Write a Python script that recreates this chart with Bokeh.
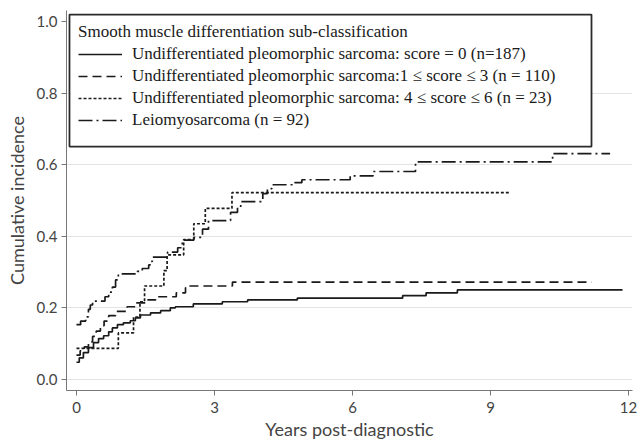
from bokeh.plotting import figure
from bokeh.models import Range1d, FixedTicker, PrintfTickFormatter, Legend, LegendItem, BoxAnnotation
from bokeh.embed import file_html
from bokeh.resources import INLINE

# ---- data (years post-diagnostic, cumulative incidence) ----
t_score0 = [0, 0.06, 0.15, 0.26, 0.37, 0.48, 0.59, 0.70, 0.78, 0.89, 1.02, 1.17, 1.28, 1.39,
            1.61, 1.83, 2.04, 2.15, 2.54, 3.17, 3.72, 4.80, 7.09, 7.60, 8.28, 11.87]
ci_score0 = [0.048, 0.060, 0.075, 0.089, 0.103, 0.114, 0.122, 0.133, 0.144, 0.153, 0.158, 0.164,
             0.172, 0.180, 0.186, 0.192, 0.200, 0.203, 0.211, 0.217, 0.222, 0.227, 0.234, 0.242,
             0.250, 0.250]

t_score13 = [0, 0.08, 0.17, 0.26, 0.35, 0.43, 0.52, 0.60, 0.70, 0.85, 1.10, 1.28, 1.50, 1.72,
             2.17, 2.37, 2.43, 3.39, 11.20]
ci_score13 = [0.068, 0.080, 0.091, 0.105, 0.120, 0.135, 0.150, 0.163, 0.178, 0.190, 0.203, 0.214,
              0.222, 0.231, 0.242, 0.256, 0.261, 0.272, 0.272]

t_score46 = [0, 0.91, 1.24, 1.38, 1.48, 1.90, 1.97, 2.33, 2.55, 2.80, 3.38, 9.43]
ci_score46 = [0.087, 0.130, 0.174, 0.217, 0.261, 0.304, 0.348, 0.391, 0.435, 0.478, 0.522, 0.522]

t_lms = [0, 0.09, 0.20, 0.26, 0.30, 0.35, 0.62, 0.70, 0.78, 0.85, 0.91, 1.32, 1.43, 1.57, 1.62,
         1.65, 1.98, 2.20, 2.30, 2.55, 2.74, 2.87, 3.35, 3.50, 3.57, 4.05, 4.15, 4.25, 4.75, 4.90,
         5.95, 6.45, 7.37, 10.35, 11.60]
ci_lms = [0.153, 0.163, 0.175, 0.196, 0.208, 0.219, 0.231, 0.244, 0.258, 0.278, 0.295, 0.302,
          0.310, 0.320, 0.330, 0.342, 0.356, 0.368, 0.389, 0.397, 0.420, 0.444, 0.467, 0.481,
          0.497, 0.519, 0.533, 0.544, 0.550, 0.558, 0.569, 0.581, 0.608, 0.631, 0.631]

labels = [
    "Undifferentiated pleomorphic sarcoma: score = 0 (n=187)",
    "Undifferentiated pleomorphic sarcoma:1 \u2264 score \u2264 3 (n = 110)",
    "Undifferentiated pleomorphic sarcoma: 4 \u2264 score \u2264 6 (n = 23)",
    "Leiomyosarcoma (n = 92)",
]
legend_title = "Smooth muscle differentiation sub-classification"
x_ticks = [0, 3, 6, 9, 12]
y_ticks = [0.0, 0.2, 0.4, 0.6, 0.8, 1.0]
grid_ticks = [0.0, 0.2, 0.4, 0.6, 0.8]

# ---- figure ----
SANS = "Lato"
SERIF = "Liberation Serif"
INK = "#1a1a1a"

p = figure(width=640, height=443, output_backend="svg", toolbar_location=None,
           x_range=Range1d(-0.217, 12.087), y_range=Range1d(-0.031, 1.031),
           min_border_left=66, min_border_right=8, min_border_top=10, min_border_bottom=53)
p.outline_line_color = None
p.background_fill_color = "white"

p.xgrid.visible = False
p.ygrid.ticker = FixedTicker(ticks=grid_ticks)
p.ygrid.grid_line_color = "#e4e4e4"
p.ygrid.grid_line_width = 1

for ax in (p.xaxis[0], p.yaxis[0]):
    ax.axis_line_color = "#777777"
    ax.axis_line_width = 1
    ax.major_tick_line_color = "#777777"
    ax.major_tick_out = 5
    ax.major_tick_in = 0
    ax.minor_tick_line_color = None
    ax.major_label_text_font = SANS
    ax.major_label_text_font_size = "15px"
    ax.major_label_text_color = "#444444"
    ax.axis_label_text_font = SANS
    ax.axis_label_text_font_size = "18px"
    ax.axis_label_text_color = "#444444"
    ax.axis_label_text_font_style = "normal"

p.xaxis.ticker = FixedTicker(ticks=x_ticks)
p.yaxis.ticker = FixedTicker(ticks=y_ticks)
p.yaxis.formatter = PrintfTickFormatter(format="%.1f")
p.xaxis.axis_label = "Years post-diagnostic"
p.yaxis.axis_label = "Cumulative incidence"
p.xaxis.major_label_standoff = 6
p.xaxis.axis_label_standoff = 2
p.yaxis.major_label_standoff = 4
p.yaxis.axis_label_standoff = 6

# legend frame (drawn below the curves, above the grid)
def px_x(px):
    return (px - 76) / 46.0

def px_y(py):
    return (379 - py) / 358.0

box = BoxAnnotation(left=px_x(69), right=px_x(591), top=px_y(14), bottom=px_y(146),
                    fill_color="white", fill_alpha=1.0, line_color="#2b2b2b", line_alpha=1.0,
                    line_width=1.8, level="underlay")
p.add_layout(box)

r0 = p.step(t_score0, ci_score0, mode="after", line_color=INK, line_width=1.7)
r1 = p.step(t_score13, ci_score13, mode="after", line_color=INK, line_width=1.7, line_dash="9 5")
r2 = p.step(t_score46, ci_score46, mode="after", line_color=INK, line_width=1.7, line_dash="3 2")
r3 = p.step(t_lms, ci_lms, mode="after", line_color=INK, line_width=1.7, line_dash="14 4 2 4")

legend = Legend(items=[LegendItem(label=labels[0], renderers=[r0]),
                       LegendItem(label=labels[1], renderers=[r1]),
                       LegendItem(label=labels[2], renderers=[r2]),
                       LegendItem(label=labels[3], renderers=[r3])],
                location="top_left", title=legend_title)
legend.margin = 2
legend.padding = 10
legend.border_line_alpha = 0
legend.background_fill_alpha = 0
legend.title_text_font = SERIF
legend.title_text_font_size = "17px"
legend.title_text_font_style = "normal"
legend.title_text_color = INK
legend.title_standoff = 2
legend.label_text_font = SERIF
legend.label_text_font_size = "17px"
legend.label_text_color = INK
legend.glyph_width = 44
legend.glyph_height = 20
legend.label_height = 20
legend.label_standoff = 10
legend.spacing = 2
p.add_layout(legend)

open("out.html", "w").write(file_html(p, INLINE))
